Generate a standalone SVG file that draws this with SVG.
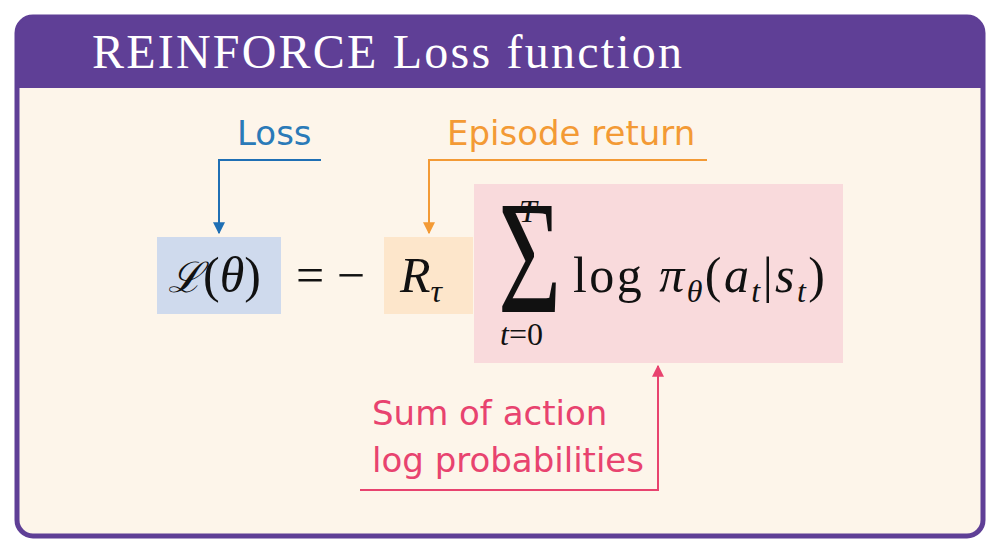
<svg xmlns="http://www.w3.org/2000/svg" width="1000" height="553" viewBox="0 0 1000 553">
<defs>
<style>
.m{font-family:"Liberation Serif","DejaVu Serif",serif;font-size:50px;fill:#111}
.i{font-style:italic}
.sm{font-size:32px}
.s{font-family:"DejaVu Sans","Noto Sans",sans-serif;font-size:34px}
.c{fill:none;stroke-width:2}
</style>
<marker id="ab" viewBox="0 0 10 10" refX="9" refY="5" markerWidth="6" markerHeight="6" orient="auto"><path d="M0,0L10,5L0,10z" fill="#1f6fb4"/></marker>
<marker id="ao" viewBox="0 0 10 10" refX="9" refY="5" markerWidth="6" markerHeight="6" orient="auto"><path d="M0,0L10,5L0,10z" fill="#f39a35"/></marker>
<marker id="ap" viewBox="0 0 10 10" refX="9" refY="5" markerWidth="6" markerHeight="6" orient="auto"><path d="M0,0L10,5L0,10z" fill="#e8436f"/></marker>
</defs>
<rect x="0" y="0" width="1000" height="553" fill="#fff"/>
<g id="frame">
<rect x="17" y="17" width="966" height="519" rx="16" fill="#fdf5ea" stroke="#5f3f96" stroke-width="5"/>
<path d="M17,88V33A16,16 0 0 1 33,17H967A16,16 0 0 1 983,33V88Z" fill="#5f3f96"/>
<text x="92" y="68" font-family="Liberation Serif,serif" font-size="48" fill="#fff" textLength="590">REINFORCE Loss function</text>
</g>
<g id="loss-box"><rect x="157" y="237" width="124" height="77" fill="#cfdaed"/></g>
<g id="return-box"><rect x="384" y="237" width="89" height="77" fill="#fde6cb"/></g>
<g id="sum-box"><rect x="474" y="184" width="369" height="179" fill="#f9dadc"/></g>
<g id="math">
<text class="m" x="168" y="292"><tspan class="i" style="font-family:'DejaVu Serif',serif;font-size:42px">ℒ</tspan>(<tspan class="i">θ</tspan>)</text>
<text class="m" x="296" y="292">= −</text>
<text class="m i" x="400" y="292">R<tspan class="sm" dy="10">τ</tspan></text>
<text class="m" transform="translate(498,312) scale(0.68,1)" style="font-size:160px">Σ</text>
<text class="m i sm" x="519" y="222">T</text>
<text class="m sm" x="500" y="345"><tspan class="i">t</tspan>=0</text>
<text class="m" x="573" y="292" textLength="252">log <tspan class="i">π</tspan><tspan class="i sm" dy="10">θ</tspan><tspan dy="-10">(</tspan><tspan class="i">a</tspan><tspan class="i sm" dy="10">t</tspan><tspan dy="-10">|</tspan><tspan class="i">s</tspan><tspan class="i sm" dy="10">t</tspan><tspan dy="-10">)</tspan></text>
</g>
<g id="labels">
<text class="s" x="237" y="145" fill="#2a7ab8">Loss</text>
<text class="s" x="447" y="145" fill="#f39a35">Episode return</text>
<text class="s" x="372" y="425" fill="#e8436f">Sum of action</text>
<text class="s" x="372" y="472" fill="#e8436f">log probabilities</text>
</g>
<g id="connectors">
<path class="c" d="M321,160H219V233" stroke="#1f6fb4" marker-end="url(#ab)"/>
<path class="c" d="M707,160H429V233" stroke="#f39a35" marker-end="url(#ao)"/>
<path class="c" d="M360,490H658V366" stroke="#e8436f" marker-end="url(#ap)"/>
</g>
</svg>
